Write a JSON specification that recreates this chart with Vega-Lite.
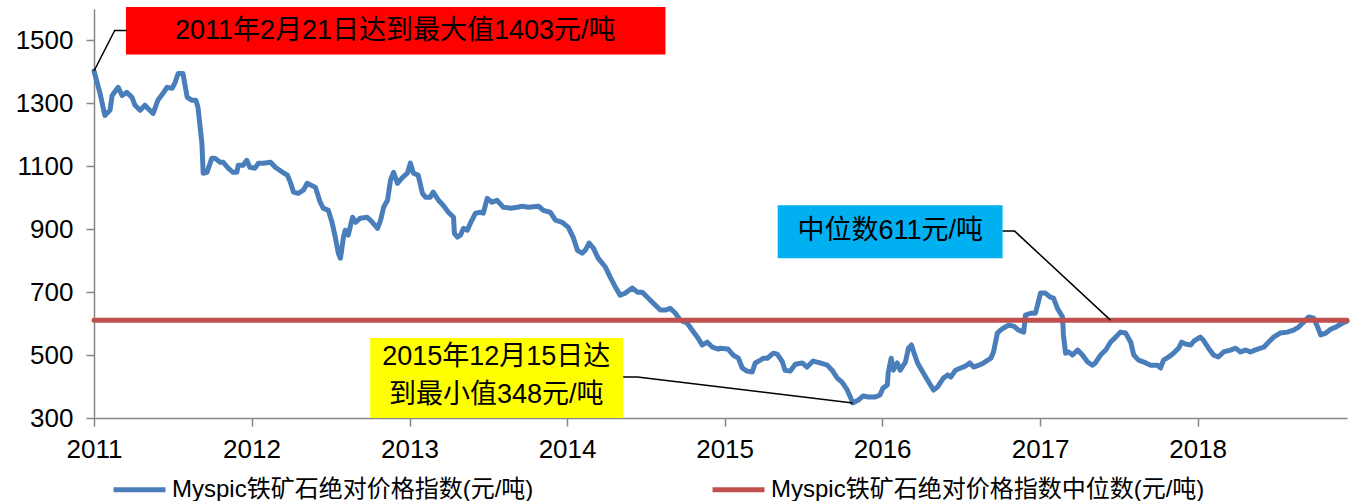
{
  "$schema": "https://vega.github.io/schema/vega-lite/v6.json",
  "width": 1253,
  "height": 409,
  "autosize": {"type": "none"},
  "padding": {"left": 94, "top": 9, "right": 4, "bottom": 83},
  "background": "white",
  "config": {"view": {"stroke": null}, "font": "Liberation Sans, Noto Sans CJK SC"},
  "datasets": {
    "prices": [
      {"date":"2011-02-21","value":1403},{"date":"2011-03-07","value":1332},{"date":"2011-03-18","value":1262},{"date":"2011-03-30","value":1278},
      {"date":"2011-04-04","value":1325},{"date":"2011-04-18","value":1351},{"date":"2011-04-27","value":1325},{"date":"2011-05-08","value":1335},
      {"date":"2011-05-20","value":1319},{"date":"2011-05-27","value":1294},{"date":"2011-06-08","value":1278},{"date":"2011-06-19","value":1294},
      {"date":"2011-06-26","value":1284},{"date":"2011-07-08","value":1268},{"date":"2011-07-19","value":1310},{"date":"2011-07-31","value":1332},
      {"date":"2011-08-09","value":1351},{"date":"2011-08-21","value":1348},{"date":"2011-08-28","value":1367},{"date":"2011-09-04","value":1395},
      {"date":"2011-09-15","value":1395},{"date":"2011-09-25","value":1319},{"date":"2011-10-06","value":1310},{"date":"2011-10-15","value":1310},
      {"date":"2011-10-20","value":1287},{"date":"2011-10-29","value":1173},{"date":"2011-11-01","value":1078},{"date":"2011-11-10","value":1081},
      {"date":"2011-11-21","value":1126},{"date":"2011-11-28","value":1126},{"date":"2011-12-10","value":1113},{"date":"2011-12-17","value":1113},
      {"date":"2011-12-29","value":1094},{"date":"2012-01-09","value":1081},{"date":"2012-01-18","value":1081},{"date":"2012-01-21","value":1103},
      {"date":"2012-02-01","value":1103},{"date":"2012-02-10","value":1119},{"date":"2012-02-17","value":1097},{"date":"2012-02-29","value":1094},
      {"date":"2012-03-08","value":1110},{"date":"2012-03-19","value":1110},{"date":"2012-04-05","value":1113},{"date":"2012-04-16","value":1097},
      {"date":"2012-05-03","value":1081},{"date":"2012-05-14","value":1072},{"date":"2012-05-21","value":1049},{"date":"2012-05-28","value":1018},
      {"date":"2012-06-08","value":1014},{"date":"2012-06-20","value":1024},{"date":"2012-06-29","value":1046},{"date":"2012-07-18","value":1033},
      {"date":"2012-07-29","value":986},{"date":"2012-08-05","value":967},{"date":"2012-08-17","value":960},{"date":"2012-08-26","value":919},
      {"date":"2012-09-02","value":875},{"date":"2012-09-09","value":824},{"date":"2012-09-14","value":808},{"date":"2012-09-21","value":875},
      {"date":"2012-09-25","value":897},{"date":"2012-10-02","value":881},{"date":"2012-10-12","value":938},{"date":"2012-10-19","value":922},
      {"date":"2012-10-30","value":935},{"date":"2012-11-15","value":938},{"date":"2012-11-27","value":922},{"date":"2012-12-09","value":903},
      {"date":"2012-12-16","value":929},{"date":"2012-12-23","value":970},{"date":"2013-01-01","value":992},{"date":"2013-01-08","value":1056},
      {"date":"2013-01-15","value":1081},{"date":"2013-01-24","value":1046},{"date":"2013-02-05","value":1065},{"date":"2013-02-16","value":1078},
      {"date":"2013-02-23","value":1110},{"date":"2013-03-02","value":1078},{"date":"2013-03-13","value":1072},{"date":"2013-03-23","value":1014},
      {"date":"2013-03-30","value":1002},{"date":"2013-04-10","value":1002},{"date":"2013-04-17","value":1018},{"date":"2013-04-29","value":992},
      {"date":"2013-05-10","value":976},{"date":"2013-05-22","value":954},{"date":"2013-06-03","value":938},{"date":"2013-06-05","value":887},
      {"date":"2013-06-12","value":875},{"date":"2013-06-19","value":881},{"date":"2013-06-26","value":903},{"date":"2013-07-05","value":897},
      {"date":"2013-07-12","value":919},{"date":"2013-07-24","value":951},{"date":"2013-08-04","value":954},{"date":"2013-08-11","value":951},
      {"date":"2013-08-20","value":998},{"date":"2013-08-31","value":986},{"date":"2013-09-12","value":992},{"date":"2013-09-26","value":970},
      {"date":"2013-10-13","value":967},{"date":"2013-10-29","value":970},{"date":"2013-11-09","value":973},{"date":"2013-11-23","value":970},
      {"date":"2013-12-17","value":973},{"date":"2013-12-28","value":960},{"date":"2014-01-13","value":954},{"date":"2014-01-25","value":929},
      {"date":"2014-02-10","value":922},{"date":"2014-02-24","value":906},{"date":"2014-03-07","value":875},{"date":"2014-03-17","value":833},
      {"date":"2014-03-28","value":824},{"date":"2014-04-04","value":833},{"date":"2014-04-13","value":856},{"date":"2014-04-23","value":840},
      {"date":"2014-05-04","value":808},{"date":"2014-05-21","value":779},{"date":"2014-06-01","value":748},{"date":"2014-06-13","value":716},
      {"date":"2014-06-24","value":690},{"date":"2014-07-06","value":697},{"date":"2014-07-22","value":713},{"date":"2014-08-03","value":700},
      {"date":"2014-08-14","value":700},{"date":"2014-08-26","value":684},{"date":"2014-09-09","value":665},{"date":"2014-09-25","value":643},
      {"date":"2014-10-07","value":643},{"date":"2014-10-18","value":649},{"date":"2014-10-30","value":633},{"date":"2014-11-10","value":611},
      {"date":"2014-11-26","value":602},{"date":"2014-12-08","value":579},{"date":"2014-12-20","value":557},{"date":"2014-12-31","value":532},
      {"date":"2015-01-12","value":541},{"date":"2015-01-24","value":525},{"date":"2015-02-06","value":519},{"date":"2015-02-11","value":522},
      {"date":"2015-03-01","value":519},{"date":"2015-03-13","value":500},{"date":"2015-03-25","value":490},{"date":"2015-04-03","value":459},
      {"date":"2015-04-14","value":449},{"date":"2015-04-26","value":446},{"date":"2015-05-03","value":475},{"date":"2015-05-15","value":484},
      {"date":"2015-05-22","value":490},{"date":"2015-05-31","value":490},{"date":"2015-06-14","value":506},{"date":"2015-06-23","value":503},
      {"date":"2015-07-05","value":478},{"date":"2015-07-11","value":452},{"date":"2015-07-23","value":449},{"date":"2015-08-04","value":471},
      {"date":"2015-08-20","value":475},{"date":"2015-08-31","value":462},{"date":"2015-09-14","value":481},{"date":"2015-09-30","value":475},
      {"date":"2015-10-17","value":468},{"date":"2015-10-28","value":452},{"date":"2015-11-09","value":427},{"date":"2015-11-20","value":414},
      {"date":"2015-12-02","value":389},{"date":"2015-12-10","value":364},{"date":"2015-12-15","value":348},{"date":"2015-12-28","value":357},
      {"date":"2016-01-08","value":370},{"date":"2016-01-20","value":367},{"date":"2016-02-05","value":367},{"date":"2016-02-16","value":373},
      {"date":"2016-02-23","value":395},{"date":"2016-03-04","value":405},{"date":"2016-03-06","value":443},{"date":"2016-03-13","value":490},
      {"date":"2016-03-18","value":452},{"date":"2016-03-27","value":475},{"date":"2016-04-03","value":452},{"date":"2016-04-15","value":478},
      {"date":"2016-04-22","value":522},{"date":"2016-04-29","value":532},{"date":"2016-05-04","value":510},{"date":"2016-05-13","value":475},
      {"date":"2016-05-25","value":446},{"date":"2016-06-05","value":421},{"date":"2016-06-12","value":405},{"date":"2016-06-19","value":389},
      {"date":"2016-06-28","value":398},{"date":"2016-07-12","value":427},{"date":"2016-07-22","value":437},{"date":"2016-07-29","value":430},
      {"date":"2016-08-09","value":452},{"date":"2016-08-21","value":459},{"date":"2016-09-01","value":465},{"date":"2016-09-11","value":475},
      {"date":"2016-09-20","value":462},{"date":"2016-10-02","value":468},{"date":"2016-10-13","value":475},{"date":"2016-10-30","value":490},
      {"date":"2016-11-05","value":510},{"date":"2016-11-14","value":570},{"date":"2016-11-21","value":579},{"date":"2016-11-28","value":586},
      {"date":"2016-12-10","value":595},{"date":"2016-12-22","value":592},{"date":"2017-01-02","value":579},{"date":"2017-01-14","value":573},
      {"date":"2017-01-18","value":627},{"date":"2017-01-30","value":633},{"date":"2017-02-10","value":633},{"date":"2017-02-15","value":659},
      {"date":"2017-02-22","value":697},{"date":"2017-03-05","value":697},{"date":"2017-03-17","value":684},{"date":"2017-03-24","value":681},
      {"date":"2017-04-02","value":649},{"date":"2017-04-14","value":621},{"date":"2017-04-16","value":564},{"date":"2017-04-21","value":506},
      {"date":"2017-04-28","value":510},{"date":"2017-05-07","value":500},{"date":"2017-05-19","value":516},{"date":"2017-05-30","value":500},
      {"date":"2017-06-11","value":478},{"date":"2017-06-22","value":468},{"date":"2017-06-29","value":475},{"date":"2017-07-11","value":500},
      {"date":"2017-07-23","value":516},{"date":"2017-08-03","value":541},{"date":"2017-08-15","value":557},{"date":"2017-08-26","value":573},
      {"date":"2017-09-07","value":570},{"date":"2017-09-19","value":541},{"date":"2017-09-26","value":500},{"date":"2017-10-07","value":484},
      {"date":"2017-10-24","value":475},{"date":"2017-11-04","value":468},{"date":"2017-11-20","value":468},{"date":"2017-11-27","value":459},
      {"date":"2017-12-04","value":484},{"date":"2017-12-16","value":494},{"date":"2017-12-27","value":506},{"date":"2018-01-08","value":522},
      {"date":"2018-01-15","value":541},{"date":"2018-01-24","value":535},{"date":"2018-02-05","value":532},{"date":"2018-02-12","value":544},
      {"date":"2018-02-27","value":557},{"date":"2018-03-06","value":548},{"date":"2018-03-18","value":522},{"date":"2018-03-30","value":500},
      {"date":"2018-04-10","value":494},{"date":"2018-04-22","value":510},{"date":"2018-05-08","value":516},{"date":"2018-05-20","value":522},
      {"date":"2018-05-31","value":510},{"date":"2018-06-12","value":516},{"date":"2018-06-23","value":510},{"date":"2018-07-10","value":519},
      {"date":"2018-07-24","value":525},{"date":"2018-08-04","value":541},{"date":"2018-08-16","value":557},{"date":"2018-08-31","value":570},
      {"date":"2018-09-17","value":573},{"date":"2018-10-01","value":579},{"date":"2018-10-13","value":589},{"date":"2018-10-25","value":605},
      {"date":"2018-11-05","value":621},{"date":"2018-11-17","value":617},{"date":"2018-11-26","value":589},{"date":"2018-12-03","value":564},
      {"date":"2018-12-15","value":570},{"date":"2018-12-27","value":583},{"date":"2019-01-07","value":589},{"date":"2019-01-23","value":602},
      {"date":"2019-02-02","value":608}
    ],
    "median": [
      {"date":"2011-02-21","value":611},{"date":"2019-02-02","value":611}
    ],
    "boxes": [
      {"box":"max","date":"2011-05-06","date2":"2014-10-07","value":1606,"value2":1455},
      {"box":"min","date":"2012-11-22","date2":"2014-07-01","value":554,"value2":300},
      {"box":"median","date":"2015-06-24","date2":"2016-11-26","value":976,"value2":808}
    ],
    "leaders": [
      {"id":"max","date":"2011-02-21","value":1403},{"id":"max","date":"2011-04-10","value":1532},{"id":"max","date":"2011-05-08","value":1532},
      {"id":"min","date":"2014-07-01","value":430},{"id":"min","date":"2014-08-03","value":430},{"id":"min","date":"2015-12-15","value":348},
      {"id":"median","date":"2016-11-26","value":894},{"id":"median","date":"2016-12-24","value":894},{"id":"median","date":"2017-08-03","value":611}
    ],
    "labels": [
      {"date":"2013-01-19","value":1529,"label":"2011年2月21日达到最大值1403元/吨"},
      {"date":"2013-09-10","value":494,"label":"2015年12月15日达\n到最小值348元/吨"},
      {"date":"2016-03-11","value":894,"label":"中位数611元/吨"}
    ]
  },
  "encoding": {
    "x": {
      "field": "date", "type": "temporal",
      "scale": {"domain": [{"year":2011,"month":2,"date":21},{"year":2019,"month":2,"date":2}], "nice": false},
      "axis": {
        "title": null, "grid": false, "format": "%Y",
        "values": [{"year":2011,"month":2,"date":21},{"year":2012,"month":2,"date":21},{"year":2013,"month":2,"date":21},{"year":2014,"month":2,"date":21},{"year":2015,"month":2,"date":21},{"year":2016,"month":2,"date":21},{"year":2017,"month":2,"date":21},{"year":2018,"month":2,"date":21}],
        "labelFlush": false, "labelOverlap": false,
        "domainColor": "#868686", "domainWidth": 1.5, "tickColor": "#868686", "tickWidth": 1.5, "tickSize": 8,
        "labelFontSize": 26, "labelColor": "black", "labelPadding": 10, "labelFont": "Liberation Sans"
      }
    },
    "y": {
      "field": "value", "type": "quantitative",
      "scale": {"domain": [300, 1600], "nice": false, "zero": false},
      "axis": {
        "title": null, "grid": false, "values": [300, 500, 700, 900, 1100, 1300, 1500], "format": "d",
        "domainColor": "#868686", "domainWidth": 1.5, "tickColor": "#868686", "tickWidth": 1.5, "tickSize": 8,
        "labelFontSize": 26, "labelColor": "black", "labelPadding": 13, "labelFont": "Liberation Sans"
      }
    }
  },
  "layer": [
    {
      "data": {"name": "boxes"},
      "mark": {"type": "rect"},
      "encoding": {
        "x2": {"field": "date2"},
        "y2": {"field": "value2"},
        "fill": {"field": "box", "type": "nominal", "scale": {"domain": ["max", "min", "median"], "range": ["#FF0000", "#FFFF00", "#00B0F0"]}, "legend": null}
      }
    },
    {
      "data": {"name": "prices"},
      "mark": {"type": "line", "strokeWidth": 5, "strokeJoin": "round", "strokeCap": "round"},
      "encoding": {
        "color": {
          "datum": "Myspic铁矿石绝对价格指数(元/吨)", "type": "nominal",
          "scale": {"domain": ["Myspic铁矿石绝对价格指数(元/吨)", "Myspic铁矿石绝对价格指数中位数(元/吨)"], "range": ["#4A7EBB", "#C0504D"]},
          "legend": {
            "title": null, "orient": "none", "legendX": 17, "legendY": 452, "direction": "horizontal", "columns": 2,
            "columnPadding": 168, "symbolType": "stroke", "symbolSize": 2700, "symbolStrokeWidth": 5,
            "labelFontSize": 24, "labelFont": "Liberation Sans, Noto Sans CJK SC", "labelColor": "black", "labelOffset": 4, "labelLimit": 1000
          }
        }
      }
    },
    {
      "data": {"name": "median"},
      "mark": {"type": "line", "strokeWidth": 5, "strokeCap": "round"},
      "encoding": {
        "color": {"datum": "Myspic铁矿石绝对价格指数中位数(元/吨)", "type": "nominal"}
      }
    },
    {
      "data": {"name": "leaders"},
      "mark": {"type": "line", "color": "black", "strokeWidth": 1.5},
      "encoding": {"detail": {"field": "id", "type": "nominal"}}
    },
    {
      "data": {"name": "labels"},
      "mark": {"type": "text", "fontSize": 27, "font": "Liberation Sans, Noto Sans CJK SC", "color": "black", "align": "center", "baseline": "middle", "lineBreak": "\n", "lineHeight": 38},
      "encoding": {"text": {"field": "label"}}
    }
  ]
}
